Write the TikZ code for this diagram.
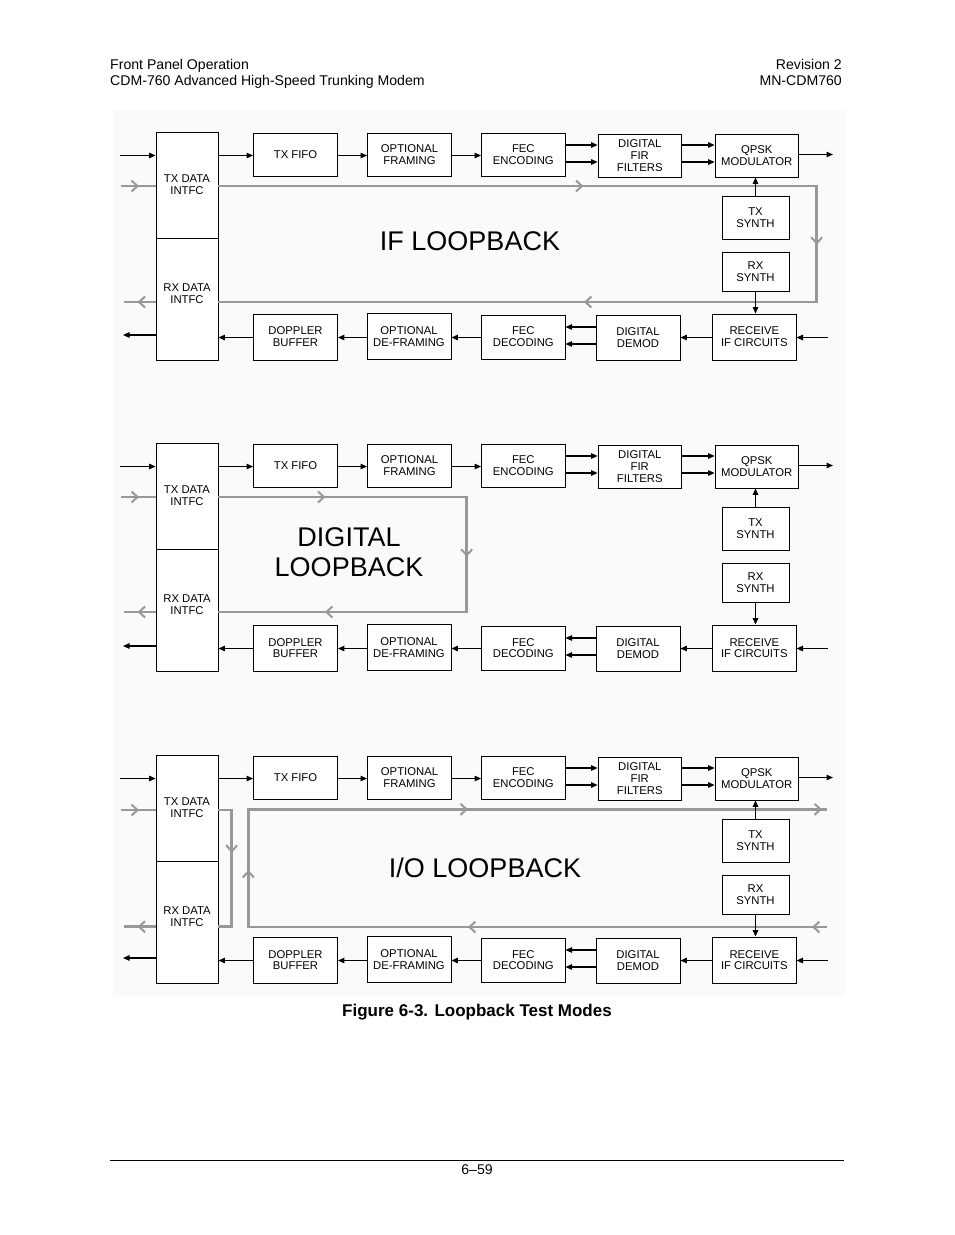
\documentclass[tikz,border=0pt]{standalone}
\usepackage{fontspec}
\setmainfont{Liberation Sans}
\usetikzlibrary{arrows.meta,decorations.markings}
\definecolor{loopgray}{RGB}{152,152,152}
\definecolor{bgshade}{RGB}{250,250,250}
\newcommand\chevtip{\arrow[loopgray]{Straight Barb[length=6pt,width=11pt,line width=2pt]}}
\tikzset{
  boxtxt/.style={inner sep=0pt,align=center,font=\fontsize{11.3}{11.8}\selectfont},
  box/.style={boxtxt,draw=black,line width=0.9pt,fill=white},
  sig/.style={draw=black,line width=1.1pt,-{Triangle[length=6.5pt,width=5.5pt]}},
  gline/.style={draw=loopgray,line width=2.8pt,postaction={decorate}},
  bigtxt/.style={font=\fontsize{27}{29.4}\selectfont,align=center,inner sep=0pt},
  hdr/.style={font=\fontsize{14.1}{16}\selectfont,inner sep=0pt},
}
% boxes of one panel: #1 = name prefix, #2 = vertical shift
\newcommand\lbboxes[2]{%
\begin{scope}[yshift=#2]
\node[box,minimum width=62pt,minimum height=106pt] (#1txd) at (187,185) {TX DATA\\INTFC};
\node[box,minimum width=62pt,minimum height=122pt] (#1rxd) at (187,299) {};
\node[boxtxt] (#1rxdt) at (187,293.5) {RX DATA\\INTFC};
\node[box,minimum width=84pt,minimum height=43pt] (#1fifo) at (295.5,154.5) {TX FIFO};
\node[box,minimum width=84pt,minimum height=43pt] (#1fram) at (409.5,154.5) {OPTIONAL\\FRAMING};
\node[box,minimum width=83.5pt,minimum height=43.5pt] (#1fenc) at (523.3,154.8) {FEC\\ENCODING};
\node[box,minimum width=83.5pt,minimum height=43pt] (#1fir) at (639.8,155.5) {DIGITAL\\FIR\\FILTERS};
\node[box,minimum width=83.5pt,minimum height=43pt] (#1qpsk) at (756.8,155.5) {QPSK\\MODULATOR};
\node[box,minimum width=67pt,minimum height=43pt] (#1txs) at (755.5,217.5) {TX\\SYNTH};
\node[box,minimum width=67pt,minimum height=38.5pt] (#1rxs) at (755.5,272) {RX\\SYNTH};
\node[box,minimum width=83.5pt,minimum height=46pt] (#1rcv) at (754.3,337) {RECEIVE\\IF CIRCUITS};
\node[box,minimum width=84pt,minimum height=45pt] (#1dem) at (638,337.5) {DIGITAL\\DEMOD};
\node[box,minimum width=83.5pt,minimum height=44pt] (#1fdec) at (523.3,337) {FEC\\DECODING};
\node[box,minimum width=84pt,minimum height=45.5pt] (#1defr) at (409,336.3) {OPTIONAL\\DE-FRAMING};
\node[box,minimum width=84pt,minimum height=46pt] (#1dop) at (295.5,337) {DOPPLER\\BUFFER};
\end{scope}}
% signal arrows of one panel
\newcommand\lbarrows[2]{%
\begin{scope}[yshift=#2]
\coordinate (#1yA) at (0,155.5);
\coordinate (#1yB) at (0,145);
\coordinate (#1yC) at (0,162);
\coordinate (#1yQ) at (0,154.5);
\coordinate (#1yR) at (0,337.5);
\coordinate (#1yD) at (0,327);
\coordinate (#1yE) at (0,344);
\coordinate (#1yO) at (0,335);
\coordinate (#1inA) at (120,155.5);
\coordinate (#1outQ) at (833,154.5);
\coordinate (#1inR) at (828,337.5);
\coordinate (#1outO) at (123,335);
\draw[sig] (#1inA) -- (#1inA -| #1txd.west);
\draw[sig] (#1yA -| #1txd.east) -- (#1yA -| #1fifo.west);
\draw[sig] (#1yA -| #1fifo.east) -- (#1yA -| #1fram.west);
\draw[sig] (#1yA -| #1fram.east) -- (#1yA -| #1fenc.west);
\draw[sig] (#1yB -| #1fenc.east) -- (#1yB -| #1fir.west);
\draw[sig] (#1yC -| #1fenc.east) -- (#1yC -| #1fir.west);
\draw[sig] (#1yB -| #1fir.east) -- (#1yB -| #1qpsk.west);
\draw[sig] (#1yC -| #1fir.east) -- (#1yC -| #1qpsk.west);
\draw[sig] (#1yQ -| #1qpsk.east) -- (#1outQ);
\draw[sig] (#1txs.north) -- (#1txs.north |- #1qpsk.south);
\draw[sig] (#1rxs.south) -- (#1rxs.south |- #1rcv.north);
\draw[sig] (#1inR) -- (#1inR -| #1rcv.east);
\draw[sig] (#1yR -| #1rcv.west) -- (#1yR -| #1dem.east);
\draw[sig] (#1yD -| #1dem.west) -- (#1yD -| #1fdec.east);
\draw[sig] (#1yE -| #1dem.west) -- (#1yE -| #1fdec.east);
\draw[sig] (#1yR -| #1fdec.west) -- (#1yR -| #1defr.east);
\draw[sig] (#1yR -| #1defr.west) -- (#1yR -| #1dop.east);
\draw[sig] (#1yR -| #1dop.west) -- (#1yR -| #1rxd.east);
\draw[sig] (#1yO -| #1rxd.west) -- (#1outO);
\end{scope}}
\begin{document}
\begin{tikzpicture}[x=1pt,y=-1pt]
\useasboundingbox (0,0) rectangle (954,1235);
\fill[white] (0,0) rectangle (954,1235);
\fill[bgshade] (113,110) rectangle (846,996);

% header / footer
\node[hdr,anchor=base west] (h1) at (110,69) {Front Panel Operation};
\node[hdr,anchor=base west] (h2) at (110,85) {CDM-760 Advanced High-Speed Trunking Modem};
\node[hdr,anchor=base east] (h3) at (842,69) {Revision 2};
\node[hdr,anchor=base east] (h4) at (842,85) {MN-CDM760};
\draw[line width=1.1pt] (110,1160.5) -- (844,1160.5);
\node[hdr,anchor=base] (pg) at (477,1174) {6–59};
\node[font=\bfseries\fontsize{17}{20}\selectfont,inner sep=0pt,anchor=base] (cap) at (477,1016) {Figure 6-3. Loopback Test Modes};

% boxes
\lbboxes{p1}{0pt}
\lbboxes{p2}{-311pt}
\lbboxes{p3}{-623pt}

% ---------- panel 1 : IF loopback ----------
\coordinate (p1g1) at (0,186);
\coordinate (p1g2) at (0,302);
\coordinate (p1gin) at (121,186);
\coordinate (p1gout) at (124,302);
\coordinate (p1c1) at (816.7,186);
\coordinate (p1c2) at (816.7,302);
\draw[gline,decoration={markings,mark=at position 365pt with {\chevtip},mark=at position 657pt with {\chevtip},mark=at position 947pt with {\chevtip}}]
  (p1g1 -| p1txd.east) -- (p1c1) -- (p1c2) -- (p1g2 -| p1rxd.east);
\draw[gline,decoration={markings,mark=at position 18pt with {\chevtip}}] (p1gin) -- (p1gin -| p1txd.west);
\draw[gline,decoration={markings,mark=at position 18pt with {\chevtip}}] (p1g2 -| p1rxd.west) -- (p1gout);
\node[bigtxt] (lb1) at (470,241) {IF LOOPBACK};

% ---------- panel 2 : digital loopback ----------
\coordinate (p2g1) at (0,497);
\coordinate (p2g2) at (0,612);
\coordinate (p2gin) at (121,497);
\coordinate (p2gout) at (124,612);
\coordinate (p2c1) at (466.7,497);
\coordinate (p2c2) at (466.7,612);
\draw[gline,decoration={markings,mark=at position 107pt with {\chevtip},mark=at position 308pt with {\chevtip},mark=at position 505pt with {\chevtip}}]
  (p2g1 -| p2txd.east) -- (p2c1) -- (p2c2) -- (p2g2 -| p2rxd.east);
\draw[gline,decoration={markings,mark=at position 18pt with {\chevtip}}] (p2gin) -- (p2gin -| p2txd.west);
\draw[gline,decoration={markings,mark=at position 18pt with {\chevtip}}] (p2g2 -| p2rxd.west) -- (p2gout);
\node[bigtxt] (lb2) at (349,552) {DIGITAL\\LOOPBACK};

% ---------- panel 3 : I/O loopback ----------
\coordinate (p3g1) at (0,810);
\coordinate (p3g2) at (0,926.7);
\coordinate (p3gin) at (121,810);
\coordinate (p3gout) at (124,926.7);
\coordinate (p3c1) at (231.7,810);
\coordinate (p3c2) at (231.7,926.7);
\draw[gline,decoration={markings,mark=at position 56pt with {\chevtip}}]
  (p3g1 -| p3txd.east) -- (p3c1) -- (p3c2) -- (p3g2 -| p3rxd.east);
\draw[gline,decoration={markings,mark=at position 18pt with {\chevtip}}] (p3gin) -- (p3gin -| p3txd.west);
\draw[gline,decoration={markings,mark=at position 18pt with {\chevtip}}] (p3g2 -| p3rxd.west) -- (p3gout);
\coordinate (p3r1) at (826.7,927);
\coordinate (p3r2) at (248.3,927);
\coordinate (p3r3) at (248.3,809.3);
\coordinate (p3r4) at (826.7,809.3);
\draw[gline,decoration={markings,mark=at position 14.7pt with {\chevtip},mark=at position 358.7pt with {\chevtip},mark=at position 635.4pt with {\chevtip},mark=at position 915.8pt with {\chevtip},mark=at position 1269.8pt with {\chevtip}}]
  (p3r1) -- (p3r2) -- (p3r3) -- (p3r4);
\node[bigtxt] (lb3) at (485,868) {I/O LOOPBACK};

% signal arrows (on top of loopback paths)
\lbarrows{p1}{0pt}
\lbarrows{p2}{-311pt}
\lbarrows{p3}{-623pt}
\end{tikzpicture}
\end{document}
